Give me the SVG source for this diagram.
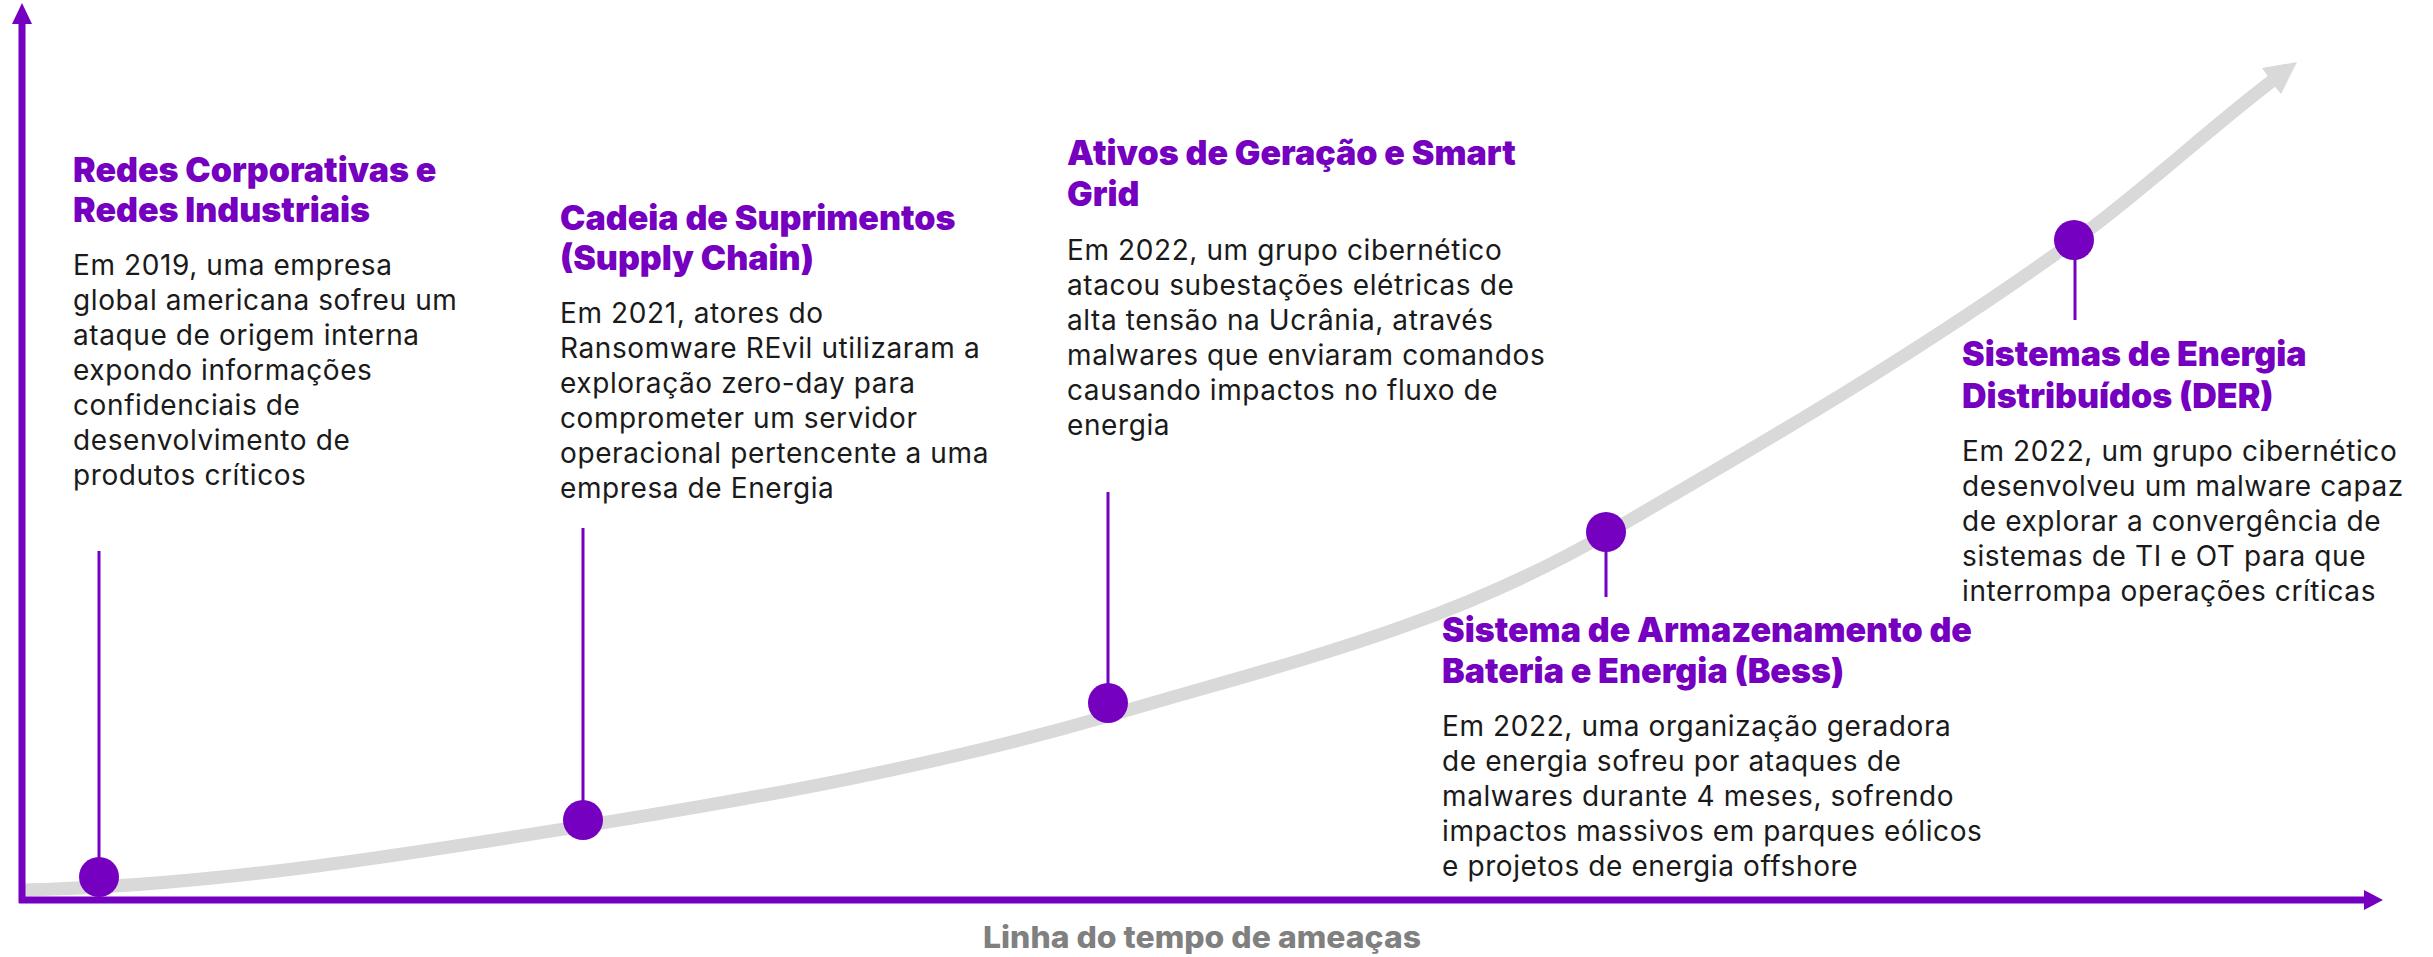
<svg xmlns="http://www.w3.org/2000/svg" width="2433" height="957" viewBox="0 0 2433 957">
<style>
.title{font-family:Inter,"Liberation Sans",sans-serif;font-weight:900;font-size:34px;fill:#7500C0;letter-spacing:0px}
.body{font-family:Inter,"Liberation Sans",sans-serif;font-weight:400;font-size:28px;fill:#1a1a1a;letter-spacing:0.6px}
.caption{font-family:Inter,"Liberation Sans",sans-serif;font-weight:800;font-size:30px;fill:#808080}
.axis{stroke:#7500C0;stroke-width:7;fill:none}
.stem{stroke:#7500C0;stroke-width:3;fill:none}
.dot{fill:#7500C0}
.trend{stroke:#D9D9D9;stroke-width:13;fill:none}
</style>
<rect width="2433" height="957" fill="#ffffff"/>
<g id="connectors">
  <path class="trend" d="M22,890 C209,886.3 396,855.9 583,826 C758,798 933,766.8 1108,716 C1274,666.2 1440,630.3 1606,534 C1762,443.5 1918,353.3 2074,241 C2140,193.5 2206,131.2 2272,81"/>
  <polygon fill="#D9D9D9" points="2297,62 2262,68 2267,75 2276,88 2281,94"/>
  <line class="axis" x1="22" y1="903" x2="22" y2="20"/>
  <polygon fill="#7500C0" points="22,3 12,24 32,24"/>
  <line class="axis" x1="19" y1="900" x2="2366" y2="900"/>
  <polygon fill="#7500C0" points="2383,900 2364,890 2364,910"/>
  <line class="stem" x1="99" y1="551" x2="99" y2="860"/>
  <line class="stem" x1="583" y1="528" x2="583" y2="803"/>
  <line class="stem" x1="1108" y1="492" x2="1108" y2="686"/>
  <line class="stem" x1="1606" y1="549" x2="1606" y2="597"/>
  <line class="stem" x1="2075" y1="257" x2="2075" y2="320"/>
</g>
<g id="node-redes">
  <circle class="dot" cx="99" cy="877" r="20"/>
  <text class="title" x="73" y="182">Redes Corporativas e</text>
  <text class="title" x="73" y="222">Redes Industriais</text>
  <text class="body" x="73" y="275">Em 2019, uma empresa</text>
  <text class="body" x="73" y="310">global americana sofreu um</text>
  <text class="body" x="73" y="345">ataque de origem interna</text>
  <text class="body" x="73" y="380">expondo informações</text>
  <text class="body" x="73" y="415">confidenciais de</text>
  <text class="body" x="73" y="450">desenvolvimento de</text>
  <text class="body" x="73" y="485">produtos críticos</text>
</g>
<g id="node-supply">
  <circle class="dot" cx="583" cy="820" r="20"/>
  <text class="title" x="560" y="230">Cadeia de Suprimentos</text>
  <text class="title" x="560" y="270">(Supply Chain)</text>
  <text class="body" x="560" y="323">Em 2021, atores do</text>
  <text class="body" x="560" y="358">Ransomware REvil utilizaram a</text>
  <text class="body" x="560" y="393">exploração zero-day para</text>
  <text class="body" x="560" y="428">comprometer um servidor</text>
  <text class="body" x="560" y="463">operacional pertencente a uma</text>
  <text class="body" x="560" y="498">empresa de Energia</text>
</g>
<g id="node-ativos">
  <circle class="dot" cx="1108" cy="703" r="20"/>
  <text class="title" x="1067" y="165">Ativos de Geração e Smart</text>
  <text class="title" x="1067" y="206">Grid</text>
  <text class="body" x="1067" y="260">Em 2022, um grupo cibernético</text>
  <text class="body" x="1067" y="295">atacou subestações elétricas de</text>
  <text class="body" x="1067" y="330">alta tensão na Ucrânia, através</text>
  <text class="body" x="1067" y="365">malwares que enviaram comandos</text>
  <text class="body" x="1067" y="400">causando impactos no fluxo de</text>
  <text class="body" x="1067" y="435">energia</text>
</g>
<g id="node-bess">
  <circle class="dot" cx="1606" cy="532" r="20"/>
  <text class="title" x="1442" y="642">Sistema de Armazenamento de</text>
  <text class="title" x="1442" y="683">Bateria e Energia (Bess)</text>
  <text class="body" x="1442" y="736">Em 2022, uma organização geradora</text>
  <text class="body" x="1442" y="771">de energia sofreu por ataques de</text>
  <text class="body" x="1442" y="806">malwares durante 4 meses, sofrendo</text>
  <text class="body" x="1442" y="841">impactos massivos em parques eólicos</text>
  <text class="body" x="1442" y="876">e projetos de energia offshore</text>
</g>
<g id="node-der">
  <circle class="dot" cx="2074" cy="240" r="20"/>
  <text class="title" x="1962" y="366">Sistemas de Energia</text>
  <text class="title" x="1962" y="408">Distribuídos (DER)</text>
  <text class="body" x="1962" y="461">Em 2022, um grupo cibernético</text>
  <text class="body" x="1962" y="496">desenvolveu um malware capaz</text>
  <text class="body" x="1962" y="531">de explorar a convergência de</text>
  <text class="body" x="1962" y="566">sistemas de TI e OT para que</text>
  <text class="body" x="1962" y="601">interrompa operações críticas</text>
</g>
<g id="caption">
  <text class="caption" x="983" y="948" textLength="438" lengthAdjust="spacingAndGlyphs">Linha do tempo de ameaças</text>
</g>
</svg>
